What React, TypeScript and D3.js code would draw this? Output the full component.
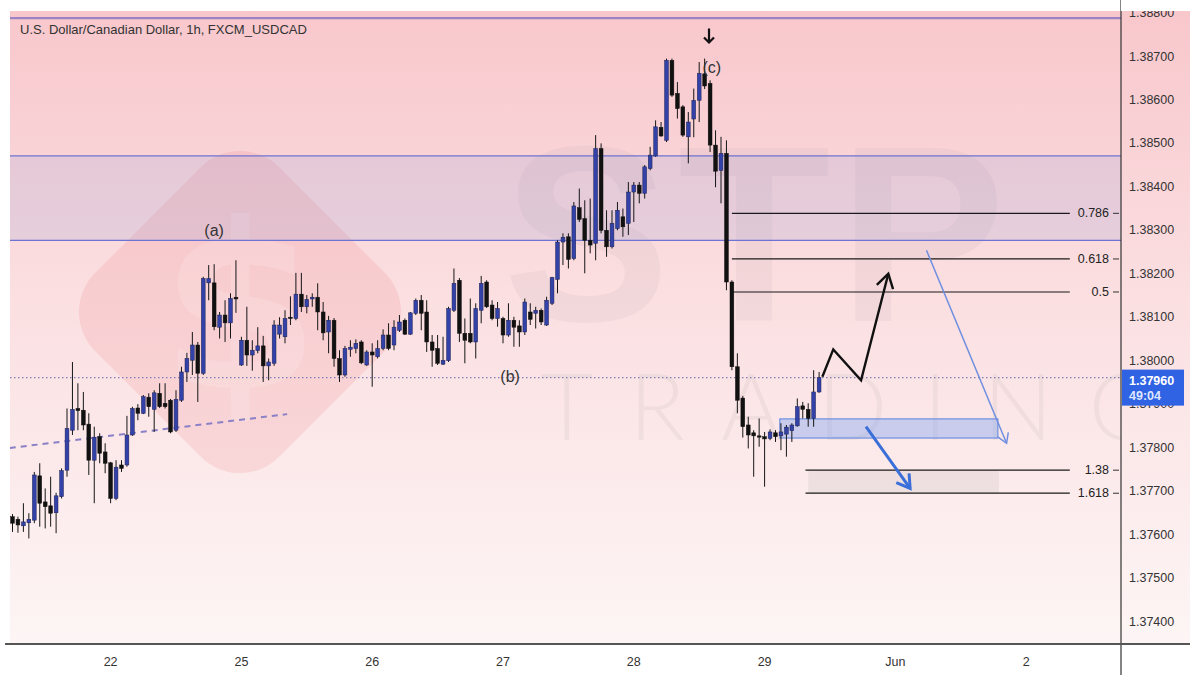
import { useEffect, useRef } from 'react';
import * as d3 from 'd3';

const title = 'U.S. Dollar/Canadian Dollar, 1h, FXCM_USDCAD';

// hourly candles, [open, high, low, close]
const candles: number[][] = [
  [1.37640, 1.37646, 1.37605, 1.37625], [1.37634, 1.37640, 1.37603, 1.37621], [1.37619, 1.37671, 1.37605, 1.37628],
  [1.37626, 1.37648, 1.37590, 1.37634], [1.37632, 1.37743, 1.37625, 1.37736], [1.37734, 1.37763, 1.37617, 1.37671],
  [1.37674, 1.37705, 1.37613, 1.37663], [1.37665, 1.37732, 1.37617, 1.37648], [1.37649, 1.37695, 1.37602, 1.37688],
  [1.37686, 1.37751, 1.37682, 1.37746], [1.37747, 1.37889, 1.37732, 1.37843], [1.37839, 1.37996, 1.37828, 1.37887],
  [1.37889, 1.37947, 1.37839, 1.37884], [1.37885, 1.37927, 1.37839, 1.37851], [1.37853, 1.37878, 1.37736, 1.37770],
  [1.37770, 1.37847, 1.37671, 1.37823], [1.37824, 1.37832, 1.37763, 1.37786], [1.37789, 1.37809, 1.37740, 1.37763],
  [1.37764, 1.37766, 1.37671, 1.37682], [1.37682, 1.37770, 1.37678, 1.37754], [1.37759, 1.37770, 1.37743, 1.37751],
  [1.37759, 1.37872, 1.37755, 1.37828], [1.37828, 1.37893, 1.37826, 1.37889], [1.37890, 1.37899, 1.37862, 1.37878],
  [1.37878, 1.37920, 1.37876, 1.37916], [1.37915, 1.37924, 1.37870, 1.37893], [1.37887, 1.37931, 1.37835, 1.37925],
  [1.37924, 1.37947, 1.37890, 1.37893], [1.37901, 1.37947, 1.37889, 1.37893], [1.37908, 1.37911, 1.37832, 1.37835],
  [1.37839, 1.37931, 1.37835, 1.37910], [1.37908, 1.37985, 1.37904, 1.37973], [1.37973, 1.38017, 1.37950, 1.38004],
  [1.38000, 1.38065, 1.37966, 1.38035], [1.38035, 1.38042, 1.37904, 1.37970], [1.37970, 1.38192, 1.37966, 1.38188],
  [1.38178, 1.38219, 1.38138, 1.38188], [1.38178, 1.38221, 1.38069, 1.38077], [1.38076, 1.38111, 1.38050, 1.38104],
  [1.38104, 1.38138, 1.38042, 1.38086], [1.38086, 1.38154, 1.38050, 1.38142], [1.38145, 1.38230, 1.38109, 1.38141],
  [1.37989, 1.38054, 1.37987, 1.38046], [1.38046, 1.38123, 1.37987, 1.38012], [1.38012, 1.38046, 1.37976, 1.38023],
  [1.38022, 1.38076, 1.38016, 1.38033], [1.38033, 1.38056, 1.37950, 1.37987], [1.37987, 1.38004, 1.37954, 1.37996],
  [1.37993, 1.38092, 1.37987, 1.38081], [1.38060, 1.38099, 1.38050, 1.38081], [1.38054, 1.38115, 1.38039, 1.38096],
  [1.38099, 1.38147, 1.38081, 1.38096], [1.38096, 1.38201, 1.38092, 1.38152], [1.38152, 1.38201, 1.38111, 1.38123],
  [1.38123, 1.38150, 1.38108, 1.38140], [1.38141, 1.38154, 1.38123, 1.38145], [1.38145, 1.38177, 1.38069, 1.38111],
  [1.38111, 1.38134, 1.38046, 1.38063], [1.38065, 1.38102, 1.38016, 1.38092], [1.38092, 1.38097, 1.37985, 1.38004],
  [1.38004, 1.38023, 1.37950, 1.37966], [1.37966, 1.38033, 1.37962, 1.38027], [1.38025, 1.38046, 1.38008, 1.38030],
  [1.38027, 1.38048, 1.38016, 1.38039], [1.38042, 1.38046, 1.37991, 1.37994], [1.37989, 1.38023, 1.37987, 1.38019],
  [1.38019, 1.38039, 1.37939, 1.38012], [1.38008, 1.38046, 1.38004, 1.38027], [1.38027, 1.38071, 1.38023, 1.38058],
  [1.38058, 1.38085, 1.38023, 1.38027], [1.38035, 1.38092, 1.38023, 1.38076], [1.38069, 1.38104, 1.38065, 1.38088],
  [1.38092, 1.38096, 1.38058, 1.38060], [1.38060, 1.38111, 1.38058, 1.38109], [1.38108, 1.38142, 1.38104, 1.38138],
  [1.38138, 1.38150, 1.38069, 1.38108], [1.38111, 1.38138, 1.38019, 1.38042], [1.38042, 1.38058, 1.37985, 1.38023],
  [1.38027, 1.38058, 1.37989, 1.37993], [1.37991, 1.38054, 1.37989, 1.38000], [1.37999, 1.38123, 1.37996, 1.38119],
  [1.38115, 1.38211, 1.38111, 1.38177], [1.38184, 1.38189, 1.38042, 1.38062], [1.38062, 1.38096, 1.37993, 1.38046],
  [1.38062, 1.38142, 1.38039, 1.38042], [1.38042, 1.38131, 1.38004, 1.38119], [1.38115, 1.38194, 1.38085, 1.38177],
  [1.38180, 1.38184, 1.38120, 1.38123], [1.38127, 1.38138, 1.38092, 1.38096], [1.38096, 1.38134, 1.38077, 1.38119],
  [1.38096, 1.38100, 1.38039, 1.38058], [1.38058, 1.38131, 1.38054, 1.38092], [1.38092, 1.38100, 1.38031, 1.38076],
  [1.38079, 1.38092, 1.38031, 1.38065], [1.38065, 1.38142, 1.38058, 1.38134], [1.38111, 1.38131, 1.38081, 1.38094],
  [1.38108, 1.38123, 1.38073, 1.38115], [1.38115, 1.38119, 1.38081, 1.38088], [1.38081, 1.38146, 1.38079, 1.38138],
  [1.38131, 1.38192, 1.38127, 1.38190], [1.38186, 1.38276, 1.38154, 1.38272], [1.38272, 1.38292, 1.38219, 1.38283],
  [1.38284, 1.38292, 1.38211, 1.38232], [1.38234, 1.38364, 1.38230, 1.38355], [1.38351, 1.38395, 1.38318, 1.38324],
  [1.38326, 1.38368, 1.38200, 1.38276], [1.38276, 1.38372, 1.38246, 1.38265], [1.38269, 1.38518, 1.38230, 1.38487],
  [1.38487, 1.38499, 1.38292, 1.38299], [1.38299, 1.38345, 1.38238, 1.38261], [1.38261, 1.38345, 1.38257, 1.38315],
  [1.38303, 1.38364, 1.38299, 1.38345], [1.38330, 1.38349, 1.38284, 1.38307], [1.38315, 1.38410, 1.38288, 1.38387],
  [1.38387, 1.38410, 1.38318, 1.38403], [1.38403, 1.38410, 1.38361, 1.38384], [1.38384, 1.38449, 1.38372, 1.38445],
  [1.38441, 1.38491, 1.38437, 1.38472], [1.38470, 1.38552, 1.38468, 1.38537], [1.38536, 1.38548, 1.38514, 1.38516],
  [1.38506, 1.38694, 1.38502, 1.38690], [1.38690, 1.38694, 1.38606, 1.38610], [1.38614, 1.38640, 1.38556, 1.38579],
  [1.38583, 1.38587, 1.38514, 1.38518], [1.38514, 1.38571, 1.38453, 1.38548], [1.38555, 1.38625, 1.38513, 1.38598],
  [1.38598, 1.38686, 1.38548, 1.38660], [1.38659, 1.38694, 1.38624, 1.38631], [1.38637, 1.38644, 1.38479, 1.38495],
  [1.38495, 1.38529, 1.38398, 1.38435], [1.38437, 1.38514, 1.38361, 1.38476], [1.38476, 1.38506, 1.38161, 1.38180],
  [1.38180, 1.38184, 1.37977, 1.37985], [1.37985, 1.38016, 1.37878, 1.37908], [1.37913, 1.37918, 1.37822, 1.37847],
  [1.37851, 1.37870, 1.37797, 1.37828], [1.37833, 1.37839, 1.37732, 1.37826], [1.37826, 1.37866, 1.37801, 1.37823],
  [1.37824, 1.37835, 1.37709, 1.37819], [1.37820, 1.37841, 1.37816, 1.37835], [1.37833, 1.37839, 1.37812, 1.37824],
  [1.37826, 1.37855, 1.37793, 1.37835], [1.37830, 1.37851, 1.37778, 1.37846], [1.37838, 1.37855, 1.37812, 1.37851],
  [1.37849, 1.37912, 1.37847, 1.37893], [1.37895, 1.37904, 1.37866, 1.37887], [1.37887, 1.37901, 1.37847, 1.37866],
  [1.37866, 1.37977, 1.37847, 1.37927], [1.37927, 1.37973, 1.37925, 1.37960],
];

// day labels and the candle index (hour) where each day starts
const dayLabels = ['22', '25', '26', '27', '28', '29', 'Jun', '2'];
const dayStarts = [18, 42, 66, 90, 114, 138, 162, 186];

const priceTicks = [1.374, 1.375, 1.376, 1.377, 1.378, 1.379, 1.38, 1.381, 1.382, 1.383, 1.384, 1.385, 1.386, 1.387, 1.388];

const lastPrice = 1.3796;
const countdown = '49:04';

const resistanceTop = 1.38470;
const resistanceBottom = 1.38276;
const upperLine = 1.38787;

const fibLabels = ['0.786', '0.618', '0.5', '1.38', '1.618'];
const fibPrices = [1.38338, 1.38233, 1.38157, 1.37747, 1.37694];
const fibFrom = [132, 132, 132, 145.5, 145.5];
const fibTo = 194;

const waveLabels = ['(a)', '(b)', '(c)'];
const waveIndex = [37, 91.3, 128.3];
const wavePrice = [1.38300, 1.37964, 1.38674];

const trendLine = [[-0.5, 1.37798], [50.4, 1.37876]];
const targetBox = [[140.8, 1.37865], [180.8, 1.37821]];
const extensionBox = [[146, 1.37747], [181, 1.37694]];
const bullishPath = [[148.6, 1.37962], [150.6, 1.38025], [155.7, 1.37954], [160.7, 1.38199]];
const bearishArrow = [[156.6, 1.37847], [164.7, 1.37705]];
const longArrow = [[167.7, 1.38253], [182.4, 1.37809]];
const topMarker = [127.8, 1.38745];

const W = 1200;
const H = 675;

const App = () => {
  const svgRef = useRef<SVGSVGElement | null>(null);

  useEffect(() => {
    const svg = d3.select(svgRef.current);
    svg.selectAll('*').remove();

    const left = 10, top = 11, plotRight = 1121, axisRight = 1190, plotBottom = 644;

    const x = d3.scaleLinear().domain([0, 200]).range([12.5, 12.5 + 200 * 5.45]);
    const y = d3.scaleLinear().domain([1.374, 1.387]).range([621, 56]);

    const defs = svg.append('defs');
    const grad = defs.append('linearGradient').attr('id', 'bg').attr('x1', 0).attr('x2', 0).attr('y1', 0).attr('y2', 1);
    grad.append('stop').attr('offset', '0%').attr('stop-color', '#f8c7cc');
    grad.append('stop').attr('offset', '45%').attr('stop-color', '#fbdfe1');
    grad.append('stop').attr('offset', '100%').attr('stop-color', '#fdf5f5');
    defs.append('clipPath').attr('id', 'plot')
      .append('rect').attr('x', left).attr('y', top).attr('width', plotRight - left).attr('height', plotBottom - top);

    svg.append('rect').attr('width', W).attr('height', H).attr('fill', '#fff');
    svg.append('rect').attr('x', left).attr('y', top).attr('width', axisRight - left).attr('height', plotBottom - top)
      .attr('fill', 'url(#bg)');

    // watermark
    const wm = svg.append('g').attr('clip-path', 'url(#plot)');
    wm.append('rect')
      .attr('x', -130).attr('y', -130).attr('width', 260).attr('height', 260).attr('rx', 55)
      .attr('transform', 'translate(240,312) rotate(45)')
      .attr('fill', 'rgba(236,110,115,0.15)');
    wm.append('text').attr('x', 240).attr('y', 388).attr('text-anchor', 'middle')
      .attr('font-family', 'DejaVu Sans').attr('font-weight', 'bold').attr('font-size', 230)
      .attr('fill', 'rgba(255,255,255,0.14)').text('$');
    wm.append('text').attr('x', 503).attr('y', 321)
      .attr('font-family', 'Liberation Sans').attr('font-weight', 'bold').attr('font-size', 250)
      .attr('letter-spacing', 8).attr('fill', 'rgba(110,110,120,0.06)').text('STP');
    wm.append('text').attr('x', 540).attr('y', 440)
      .attr('font-family', 'Lato').attr('font-weight', 300).attr('font-size', 92)
      .attr('letter-spacing', 36).attr('fill', 'rgba(110,110,120,0.08)').text('TRADING');

    const g = svg.append('g').attr('clip-path', 'url(#plot)');

    // resistance zone
    g.append('rect').attr('x', left).attr('width', plotRight - left)
      .attr('y', y(resistanceTop)).attr('height', y(resistanceBottom) - y(resistanceTop))
      .attr('fill', 'rgba(150,160,215,0.2)');
    [resistanceTop, resistanceBottom].forEach(p => {
      g.append('line').attr('x1', left).attr('x2', plotRight).attr('y1', y(p)).attr('y2', y(p))
        .attr('stroke', '#6d73d2').attr('stroke-width', 1.3);
    });
    g.append('line').attr('x1', left).attr('x2', plotRight).attr('y1', y(upperLine)).attr('y2', y(upperLine))
      .attr('stroke', '#9b82c4').attr('stroke-width', 2.2);

    // extension shading
    g.append('rect')
      .attr('x', x(extensionBox[0][0])).attr('width', x(extensionBox[1][0]) - x(extensionBox[0][0]))
      .attr('y', y(extensionBox[0][1])).attr('height', y(extensionBox[1][1]) - y(extensionBox[0][1]))
      .attr('fill', 'rgba(150,150,150,0.13)');

    // fib levels
    fibPrices.forEach((p, i) => {
      g.append('line').attr('x1', x(fibFrom[i])).attr('x2', x(fibTo)).attr('y1', y(p)).attr('y2', y(p))
        .attr('stroke', '#1a1a1a').attr('stroke-width', 1.2);
      svg.append('text').attr('x', 1109).attr('y', y(p) + 4).attr('text-anchor', 'end')
        .attr('font-family', 'Liberation Sans').attr('font-size', 12.5).attr('fill', '#222').text(fibLabels[i]);
      svg.append('line').attr('x1', 1113).attr('x2', 1119).attr('y1', y(p)).attr('y2', y(p))
        .attr('stroke', '#333').attr('stroke-width', 1);
    });

    // trend line
    g.append('line')
      .attr('x1', x(trendLine[0][0])).attr('y1', y(trendLine[0][1]))
      .attr('x2', x(trendLine[1][0])).attr('y2', y(trendLine[1][1]))
      .attr('stroke', '#8a80c6').attr('stroke-width', 2).attr('stroke-dasharray', '6,5');

    // last price dotted line
    g.append('line').attr('x1', left).attr('x2', plotRight).attr('y1', y(lastPrice)).attr('y2', y(lastPrice))
      .attr('stroke', '#7b7fb8').attr('stroke-width', 1.2).attr('stroke-dasharray', '1.5,2.5');

    // target box
    g.append('rect')
      .attr('x', x(targetBox[0][0])).attr('width', x(targetBox[1][0]) - x(targetBox[0][0]))
      .attr('y', y(targetBox[0][1])).attr('height', y(targetBox[1][1]) - y(targetBox[0][1]))
      .attr('fill', 'rgba(140,170,240,0.45)').attr('stroke', '#6e8fe2').attr('stroke-width', 1.2);

    // candles
    const bw = 3.8;
    const cg = g.append('g');
    cg.selectAll('line.wick').data(candles).enter().append('line')
      .attr('x1', (_, i) => x(i)).attr('x2', (_, i) => x(i))
      .attr('y1', d => y(d[1])).attr('y2', d => y(d[2]))
      .attr('stroke', '#151515').attr('stroke-width', 1);
    cg.selectAll('rect.body').data(candles).enter().append('rect')
      .attr('x', (_, i) => x(i) - bw / 2).attr('width', bw)
      .attr('y', d => y(Math.max(d[0], d[3])))
      .attr('height', d => Math.max(1.2, Math.abs(y(d[0]) - y(d[3]))))
      .attr('fill', d => (d[3] >= d[0] ? '#3342a8' : '#111'))
      .attr('stroke', d => (d[3] >= d[0] ? '#1d2050' : '#111')).attr('stroke-width', 0.5);

    // arrows
    const arrowHead = (sel: any, pts: number[][], len: number, color: string, width: number) => {
      const [x1, y1] = [x(pts[pts.length - 2][0]), y(pts[pts.length - 2][1])];
      const [x2, y2] = [x(pts[pts.length - 1][0]), y(pts[pts.length - 1][1])];
      const a = Math.atan2(y2 - y1, x2 - x1);
      const s = 0.55;
      const p = `M${x2 - len * Math.cos(a - s)},${y2 - len * Math.sin(a - s)}L${x2},${y2}L${x2 - len * Math.cos(a + s)},${y2 - len * Math.sin(a + s)}`;
      sel.append('path').attr('d', p).attr('fill', 'none').attr('stroke', color)
        .attr('stroke-width', width).attr('stroke-linejoin', 'miter');
    };
    const line = d3.line<number[]>().x(d => x(d[0])).y(d => y(d[1]));

    g.append('path').attr('d', line(bullishPath)).attr('fill', 'none')
      .attr('stroke', '#111').attr('stroke-width', 2.4).attr('stroke-linejoin', 'miter');
    arrowHead(g, bullishPath, 16, '#111', 2.4);

    g.append('path').attr('d', line(bearishArrow)).attr('fill', 'none')
      .attr('stroke', '#3a6ed8').attr('stroke-width', 3);
    arrowHead(g, bearishArrow, 15, '#3a6ed8', 3);

    g.append('path').attr('d', line(longArrow)).attr('fill', 'none')
      .attr('stroke', '#6f8fe0').attr('stroke-width', 1.5);
    arrowHead(g, longArrow, 11, '#6f8fe0', 1.5);

    // wave labels
    waveLabels.forEach((t, i) => {
      svg.append('text').attr('x', x(waveIndex[i])).attr('y', y(wavePrice[i]) + 6).attr('text-anchor', 'middle')
        .attr('font-family', 'Liberation Sans').attr('font-size', 16).attr('fill', '#333').text(t);
    });
    const mx = x(topMarker[0]), my = y(topMarker[1]);
    svg.append('path')
      .attr('d', `M${mx},${my - 8}L${mx},${my + 6}M${mx - 5},${my + 1}L${mx},${my + 6}L${mx + 5},${my + 1}`)
      .attr('fill', 'none').attr('stroke', '#111').attr('stroke-width', 2.2);

    // title
    svg.append('text').attr('x', 20).attr('y', 34)
      .attr('font-family', 'Liberation Sans').attr('font-size', 13).attr('fill', '#333').text(title);

    // price axis
    svg.append('line').attr('x1', plotRight).attr('x2', plotRight).attr('y1', 0).attr('y2', H)
      .attr('stroke', '#333').attr('stroke-width', 1.2);
    svg.append('line').attr('x1', left - 5).attr('x2', axisRight).attr('y1', plotBottom).attr('y2', plotBottom)
      .attr('stroke', '#555').attr('stroke-width', 2);
    priceTicks.forEach(p => {
      svg.append('text').attr('x', 1129).attr('y', y(p) + 4.5)
        .attr('font-family', 'Liberation Sans').attr('font-size', 12.5).attr('fill', '#333')
        .text(d3.format('.5f')(p));
    });
    svg.append('rect').attr('x', plotRight).attr('y', 0).attr('width', axisRight - plotRight + 10).attr('height', top)
      .attr('fill', '#fff');
    svg.append('rect').attr('x', axisRight).attr('y', 0).attr('width', W - axisRight).attr('height', H).attr('fill', '#fff');

    // last price label
    const ly = y(lastPrice);
    svg.append('rect').attr('x', plotRight + 1).attr('y', ly - 8).attr('width', 62).attr('height', 36)
      .attr('fill', '#2f63e4');
    svg.append('text').attr('x', 1129).attr('y', ly + 7).attr('font-family', 'Liberation Sans')
      .attr('font-size', 12.5).attr('font-weight', 'bold').attr('fill', '#fff').text(d3.format('.5f')(lastPrice));
    svg.append('text').attr('x', 1129).attr('y', ly + 22).attr('font-family', 'Liberation Sans')
      .attr('font-size', 12.5).attr('font-weight', 'bold').attr('fill', '#dfe7ff').text(countdown);

    // time axis
    dayLabels.forEach((t, i) => {
      svg.append('text').attr('x', x(dayStarts[i])).attr('y', 666).attr('text-anchor', 'middle')
        .attr('font-family', 'Liberation Sans').attr('font-size', 12.5).attr('fill', '#333').text(t);
    });
  }, []);

  return (
    <svg ref={svgRef} width={W} height={H}
      style={{ position: 'absolute', left: 0, top: 0, display: 'block' }} />
  );
};

export default App;
